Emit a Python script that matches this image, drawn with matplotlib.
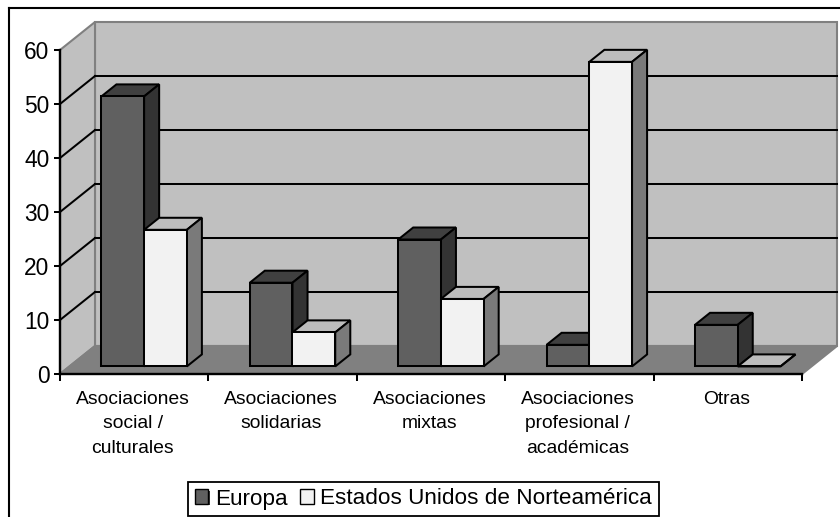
import numpy as np
from matplotlib import pyplot as plt
from matplotlib.patches import Patch, Polygon
from matplotlib.lines import Line2D
import matplotlib.patheffects as pe

categories = ['Asociaciones\nsocial /\nculturales', 'Asociaciones\nsolidarias', 'Asociaciones\nmixtas',
              'Asociaciones\nprofesional /\nacadémicas', 'Otras']
europa = [50, 15.5, 23.5, 4, 7.7]
estados = [25.3, 6.3, 12.5, 56.4, 0]
yticks = [0, 10, 20, 30, 40, 50, 60]

plt.rcParams['font.family'] = ['Liberation Sans', 'DejaVu Sans']

W, H = 840, 517
fig = plt.figure(figsize=(W / 100, H / 100), dpi=100, facecolor='white')
ax = fig.add_axes([60 / W, (H - 374) / H, 742 / W, 324 / H])
ax.set_xlim(0, 5)
ax.set_ylim(0, 60)
ax.patch.set_visible(False)

# depth of the fake 3d box, in data units
DX = 35 / (742 / 5)
DY = 28 / (324 / 60)
# bars sit between these depths
Z0, Z1 = 0.27, 0.70
BAR_W = 0.288
LW = 1.45


def proj(x, y, z):
    return (x + z * DX, y + z * DY)


def poly(pts, face, edge, zorder, lw=LW):
    ax.add_patch(Polygon(pts, closed=True, facecolor=face, edgecolor=edge, lw=lw, zorder=zorder,
                         clip_on=False, joinstyle='miter'))


# walls and floor
poly([proj(0, 0, 1), proj(5, 0, 1), proj(5, 60, 1), proj(0, 60, 1)], '#c0c0c0', '#808080', 0.5, 1.5)
poly([proj(0, 0, 0), proj(0, 0, 1), proj(0, 60, 1), proj(0, 60, 0)], '#c0c0c0', '#808080', 0.6, 1.5)
poly([proj(0, 0, 0), proj(5, 0, 0), proj(5, 0, 1), proj(0, 0, 1)], '#808080', '#808080', 0.7, 1.5)

for v in yticks[1:-1]:
    ax.plot(*zip(proj(0, v, 1), proj(5, v, 1)), color='black', lw=LW, zorder=1, clip_on=False)
    ax.plot(*zip(proj(0, v, 0), proj(0, v, 1)), color='black', lw=LW, zorder=1, clip_on=False)


def bar3d(x, v, front, top, side, zorder):
    x0, b0 = proj(x, 0, Z0)
    ax.bar(x0, v, BAR_W, bottom=b0, align='edge', facecolor=front, edgecolor='black', lw=LW, zorder=zorder + 0.2)
    poly([proj(x, v, Z0), proj(x + BAR_W, v, Z0), proj(x + BAR_W, v, Z1), proj(x, v, Z1)], top, 'black', zorder)
    poly([proj(x + BAR_W, 0, Z0), proj(x + BAR_W, v, Z0), proj(x + BAR_W, v, Z1), proj(x + BAR_W, 0, Z1)],
         side, 'black', zorder)


for i in range(len(categories)):
    left = i + 0.5 - BAR_W + 0.003
    bar3d(left, europa[i], '#606060', '#404040', '#333333', 3 + i)
    bar3d(left + BAR_W, estados[i], '#f2f2f2', '#bdbdbd', '#7a7a7a', 3.5 + i)

# axes
for s in ['top', 'right']:
    ax.spines[s].set_visible(False)
for s in ['left', 'bottom']:
    ax.spines[s].set_linewidth(1.7)
    ax.spines[s].set_zorder(2.5)

ax.set_yticks(yticks)
ax.tick_params(axis='y', labelsize=16.4, length=4, width=LW, pad=3.5, colors='black')
ax.set_xticks(np.arange(6))
ax.set_xticklabels([])
ax.tick_params(axis='x', which='major', length=5, width=LW)
ax.set_xticks(np.arange(5) + 0.49, minor=True)
ax.set_xticklabels(categories, minor=True, fontsize=13.9, linespacing=1.58)
ax.tick_params(axis='x', which='minor', length=0, pad=12)

# outer chart frame runs off the image on the right and bottom
fig.add_artist(Line2D([9 / W, 9 / W], [0, 1 - 8 / H], color='black', lw=1.5))
fig.add_artist(Line2D([9 / W, 1], [1 - 8 / H, 1 - 8 / H], color='black', lw=1.5))

shadow = [pe.SimplePatchShadow(offset=(1.2, -1.2), shadow_rgbFace='#333333', alpha=1), pe.Normal()]
handles = [Patch(facecolor='#606060', edgecolor='black', lw=1, path_effects=shadow),
           Patch(facecolor='#f2f2f2', edgecolor='black', lw=1, path_effects=shadow)]
leg = fig.legend(handles, ['Europa', 'Estados Unidos de Norteamérica'], ncol=2, fontsize=16.2,
                 loc='center', bbox_to_anchor=(423.5 / W, 1 - 499 / H), fancybox=False, framealpha=1,
                 edgecolor='black', handlelength=0.6, handleheight=0.6, handletextpad=0.3,
                 columnspacing=0.55, borderpad=0.3, borderaxespad=0)
leg.get_frame().set_linewidth(1.3)

fig.savefig('out.png', dpi=100, facecolor='white')
